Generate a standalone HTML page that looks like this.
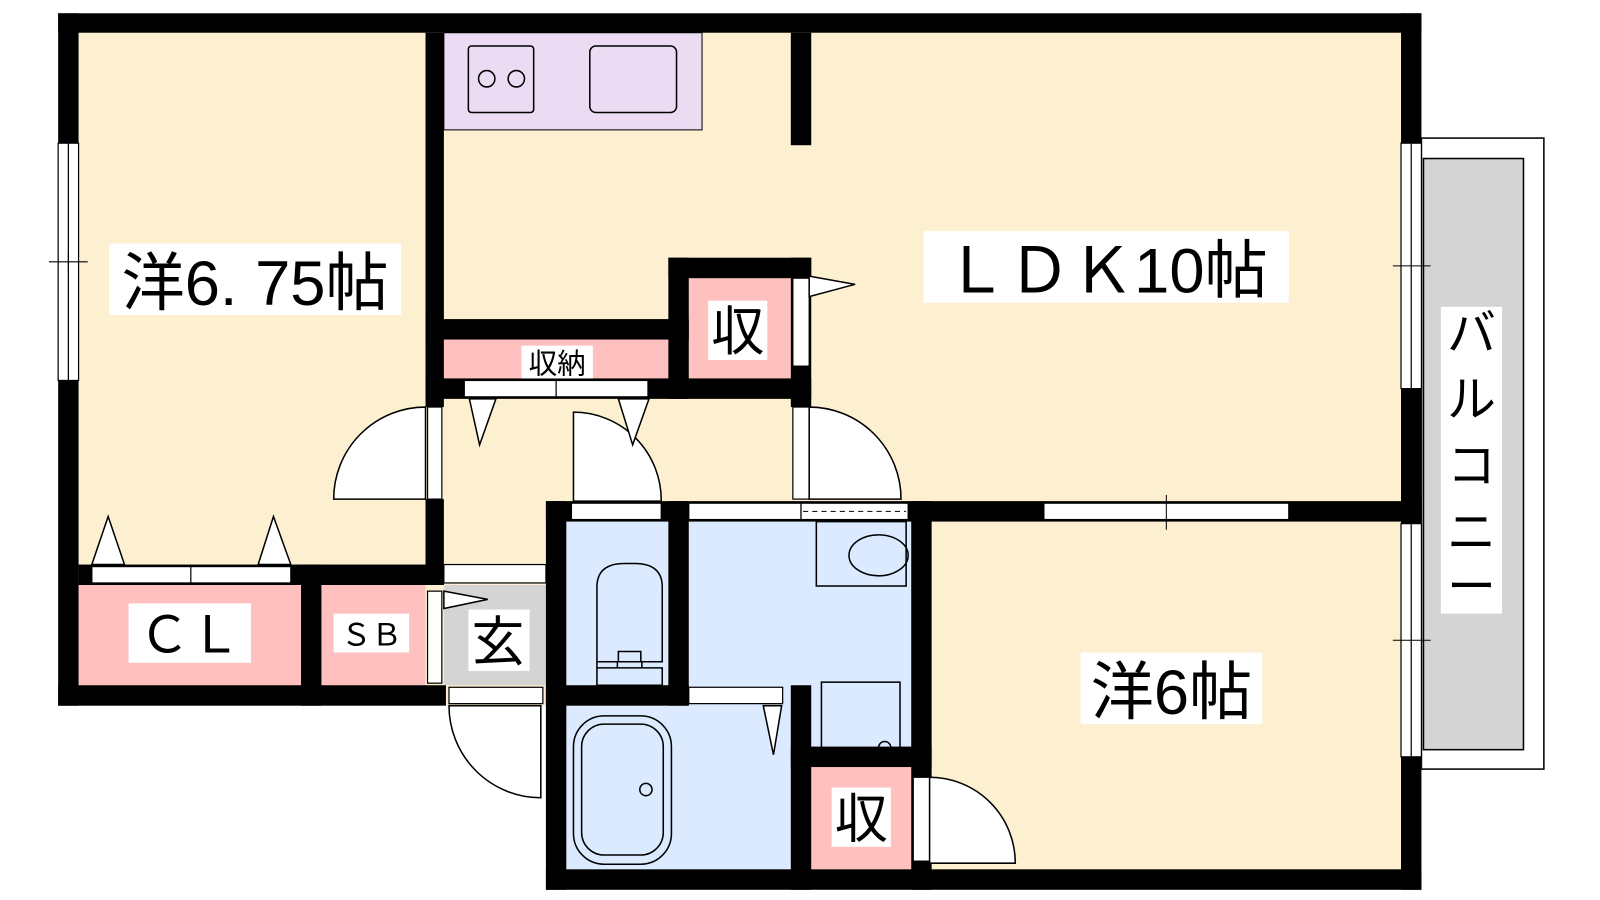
<!DOCTYPE html>
<html><head><meta charset="utf-8"><style>
body{margin:0;background:#fff}
svg{display:block}
text{font-family:"Liberation Sans","Noto Sans CJK JP",sans-serif;fill:#000}
</style></head><body>
<svg width="1600" height="900" viewBox="0 0 1568 880" preserveAspectRatio="none">
<!-- balcony -->
<rect x="1393" y="135" width="120" height="617" fill="#fff" stroke="#000" stroke-width="1.5"/>
<rect x="1395" y="155" width="98" height="578" fill="#d4d4d4" stroke="#000" stroke-width="1.5"/>
<rect x="1412" y="300" width="60" height="300" fill="#fff"/>
<text x="1442" y="342" font-size="48" text-anchor="middle">バ</text>
<text x="1442" y="407" font-size="48" text-anchor="middle">ル</text>
<text x="1442" y="472" font-size="48" text-anchor="middle">コ</text>
<text x="1442" y="537" font-size="48" text-anchor="middle">ニ</text>
<text x="1442" y="590" font-size="48" text-anchor="middle">ー</text>

<!-- floors -->
<rect x="57" y="13" width="1336" height="677" fill="#fdf0d1"/>
<rect x="535" y="490" width="858" height="380" fill="#fdf0d1"/>
<rect x="435" y="32" width="253" height="95" fill="#ebdcf3" stroke="#000" stroke-width="1"/>
<rect x="459" y="45" width="64" height="65" fill="none" stroke="#000" stroke-width="1.5" rx="3"/>
<circle cx="477" cy="77" r="8" fill="none" stroke="#000" stroke-width="1.5"/>
<circle cx="506" cy="77" r="8" fill="none" stroke="#000" stroke-width="1.5"/>
<rect x="578" y="45" width="85" height="65" fill="none" stroke="#000" stroke-width="1.5" rx="6"/>
<rect x="435" y="332" width="220" height="38" fill="#ffc0c0"/>
<rect x="675" y="272" width="100" height="98" fill="#ffc0c0"/>
<rect x="77" y="572" width="218" height="98" fill="#ffc0c0"/>
<rect x="315" y="572" width="102" height="98" fill="#ffc0c0"/>
<rect x="435" y="572" width="100" height="98" fill="#d4d4d4"/>
<rect x="555" y="510" width="100" height="160" fill="#dbeafe"/>
<rect x="675" y="510" width="218" height="220" fill="#dbeafe"/>
<rect x="555" y="690" width="220" height="160" fill="#dbeafe"/>
<rect x="795" y="750" width="98" height="100" fill="#ffc0c0"/>

<!-- fixtures -->
<g fill="none" stroke="#000" stroke-width="1.5">
<rect x="800" y="510" width="88" height="63"/>
<ellipse cx="861" cy="543" rx="29" ry="20"/>
<rect x="805" y="667" width="77" height="79"/>
<circle cx="867" cy="731" r="6"/>
<path d="M585 684 V574 q0-23 27-23 h10 q27 0 27 23 V647 H585 M606 647 v-10 h22 v10 M605 647 v6 h24 v-6 M585 653 h64 v17 h-64z"/>
<rect x="562" y="700" width="96" height="145" rx="30"/>
<rect x="570" y="708" width="80" height="128" rx="22"/>
<circle cx="633" cy="772" r="6"/>
</g>

<!-- walls -->
<g fill="#000">
<rect x="57" y="13" width="1336" height="19"/>
<rect x="57" y="13" width="20" height="677"/>
<rect x="1373" y="13" width="20" height="857"/>
<rect x="57" y="670" width="380" height="20"/>
<rect x="535" y="490" width="20" height="380"/>
<rect x="535" y="850" width="858" height="20"/>
<rect x="417" y="32" width="18" height="366"/>
<rect x="417" y="488" width="18" height="84"/>
<rect x="77" y="552" width="358" height="20"/>
<rect x="295" y="552" width="20" height="138"/>
<rect x="775" y="32" width="20" height="110"/>
<rect x="417" y="312" width="258" height="20"/>
<rect x="655" y="252" width="140" height="20"/>
<rect x="655" y="252" width="20" height="138"/>
<rect x="417" y="370" width="378" height="20"/>
<rect x="775" y="252" width="20" height="146"/>
<rect x="535" y="490" width="140" height="20"/>
<rect x="655" y="490" width="20" height="200"/>
<rect x="535" y="670" width="140" height="20"/>
<rect x="775" y="670" width="20" height="200"/>
<rect x="775" y="730" width="138" height="20"/>
<rect x="893" y="490" width="20" height="380"/>
<rect x="675" y="490" width="718" height="20"/>
</g>

<!-- windows / door panels (white) -->
<g fill="#fff" stroke="#000" stroke-width="1.2">
<rect x="57" y="140" width="20" height="232"/>
<line x1="67" y1="140" x2="67" y2="372"/>
<rect x="1373" y="140" width="20" height="240"/>
<line x1="1383" y1="140" x2="1383" y2="380"/>
<rect x="1373" y="512" width="20" height="228"/>
<line x1="1383" y1="512" x2="1383" y2="740"/>
<rect x="777" y="272" width="16" height="86"/>
<rect x="455" y="372" width="180" height="16"/>
<line x1="545" y1="372" x2="545" y2="388"/>
<rect x="90" y="554" width="195" height="16"/>
<line x1="187" y1="554" x2="187" y2="570"/>
<rect x="419" y="398" width="14" height="90"/>
<rect x="777" y="398" width="16" height="90"/>
<rect x="560" y="492" width="88" height="16"/>
<rect x="675" y="492" width="110" height="16"/>
<rect x="785" y="492" width="105" height="16"/>
<rect x="1023" y="492" width="240" height="16"/>
<rect x="675" y="672" width="92" height="16"/>
<rect x="419" y="578" width="14" height="90"/>
<rect x="435" y="552" width="100" height="18"/>
<rect x="440" y="672" width="92" height="16"/>
<rect x="895" y="760" width="16" height="82"/>
</g>
<line x1="787" y1="500" x2="888" y2="500" stroke="#000" stroke-width="1" stroke-dasharray="5,4"/>
<line x1="48" y1="256" x2="86" y2="256" stroke="#000"/><line x1="67" y1="247" x2="67" y2="265" stroke="#000"/>
<line x1="1365" y1="260" x2="1402" y2="260" stroke="#000"/>
<line x1="1365" y1="626" x2="1402" y2="626" stroke="#000"/>
<line x1="1143" y1="484" x2="1143" y2="518" stroke="#000"/>

<!-- door swings -->
<g fill="#fff" stroke="#000" stroke-width="1.5">
<path d="M417 398 A90 90 0 0 0 327 488 H417Z"/>
<path d="M793 398 A90 90 0 0 1 883 488 H793Z"/>
<path d="M562 403 A86 86 0 0 1 648 490 H562Z"/>
<path d="M530 690 V780 A90 90 0 0 1 440 690Z"/>
<path d="M911 760 A84 84 0 0 1 995 844 H911Z"/>
<path d="M460 390 L470 435 L486 390Z"/>
<path d="M606 390 L620 435 L636 390Z"/>
<path d="M90 552 L106 505 L122 552Z"/>
<path d="M253 552 L268 505 L285 552Z"/>
<path d="M793 270 L838 278 L793 290Z"/>
<path d="M435 578 L478 586 L435 595Z"/>
<path d="M748 690 L758 738 L766 690Z"/>
</g>

<!-- labels -->
<g>
<rect x="107" y="238" width="286" height="70" fill="#fff"/>
<text x="250" y="298" font-size="62" text-anchor="middle">洋6. 75帖</text>
<rect x="905" y="226" width="358" height="70" fill="#fff"/>
<text x="1084" y="286" font-size="62" text-anchor="middle">ＬＤＫ10帖</text>
<rect x="1059" y="638" width="178" height="70" fill="#fff"/>
<text x="1148" y="698" font-size="62" text-anchor="middle">洋6帖</text>
<rect x="694" y="294" width="58" height="58" fill="#fff"/>
<text x="723" y="342" font-size="52" text-anchor="middle">収</text>
<rect x="511" y="338" width="70" height="32" fill="#fff"/>
<text x="546" y="365" font-size="28" text-anchor="middle">収納</text>
<rect x="126" y="590" width="120" height="58" fill="#fff"/>
<text x="186" y="638" font-size="50" text-anchor="middle">ＣＬ</text>
<rect x="327" y="600" width="74" height="38" fill="#fff"/>
<text x="364" y="631" font-size="30" text-anchor="middle">ＳＢ</text>
<rect x="459" y="596" width="60" height="60" fill="#fff"/>
<text x="488" y="646" font-size="52" text-anchor="middle">玄</text>
<rect x="815" y="770" width="58" height="58" fill="#fff"/>
<text x="844" y="819" font-size="52" text-anchor="middle">収</text>
</g>
</svg>
</body></html>
